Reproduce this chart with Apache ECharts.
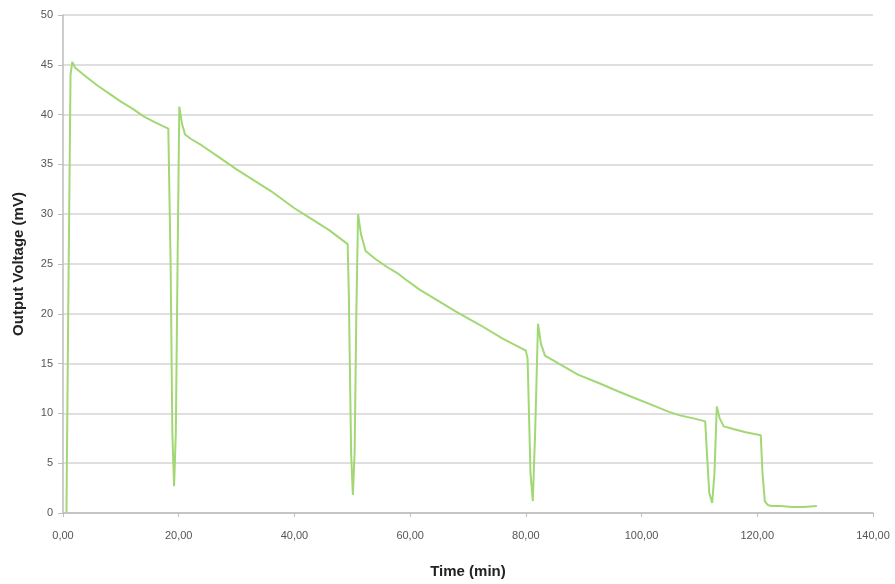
<!DOCTYPE html>
<html>
<head>
<meta charset="utf-8">
<script src="https://cdn.jsdelivr.net/npm/echarts@6/dist/echarts.min.js"></script>
<style>
html,body{margin:0;padding:0;background:#fff;}
#c{width:895px;height:584px;}
</style>
</head>
<body>
<div id="c"></div>
<script>
const timeMin = [0.6, 0.9, 1.3, 1.6, 2.1, 4.0, 6.0, 8.0, 10.0, 12.0, 14.0, 16.0, 18.2, 18.4, 18.6, 18.9, 19.2, 19.5, 19.8, 20.1, 20.6, 21.1, 22.0, 24.0, 27.0, 30.0, 33.0, 36.0, 40.0, 43.0, 46.0, 49.2, 49.4, 49.8, 50.1, 50.4, 50.7, 51.0, 51.5, 52.3, 54.0, 56.0, 58.0, 59.1, 61.7, 64.0, 68.0, 72.0, 76.0, 80.0, 80.3, 80.8, 81.2, 81.6, 82.1, 82.6, 83.3, 86.0, 89.0, 92.8, 96.0, 99.0, 102.0, 104.5, 106.6, 109.0, 111.0, 111.2, 111.7, 112.2, 112.6, 113.0, 113.5, 114.2, 116.0, 118.0, 120.6, 120.9, 121.3, 121.8, 122.5, 124.0, 126.0, 128.0, 130.3];
const voltage = [0.0, 20.0, 44.0, 45.3, 44.7, 43.8, 42.9, 42.1, 41.3, 40.6, 39.8, 39.2, 38.6, 38.5, 25.0, 8.0, 2.7, 8.0, 25.0, 40.8, 39.0, 38.0, 37.6, 36.9, 35.7, 34.5, 33.4, 32.3, 30.6, 29.5, 28.4, 27.0, 22.0, 6.0, 1.8, 6.0, 20.0, 30.0, 28.0, 26.3, 25.5, 24.7, 24.0, 23.5, 22.4, 21.6, 20.2, 18.9, 17.5, 16.3, 15.5, 4.0, 1.2, 8.0, 19.0, 17.0, 15.8, 14.9, 13.9, 13.0, 12.2, 11.5, 10.8, 10.2, 9.8, 9.5, 9.2, 7.0, 2.0, 1.0, 4.0, 10.7, 9.5, 8.7, 8.4, 8.1, 7.8, 4.0, 1.2, 0.8, 0.7, 0.7, 0.6, 0.6, 0.7];
const yTicks = [0, 5, 10, 15, 20, 25, 30, 35, 40, 45, 50];
const xTicks = [0, 20, 40, 60, 80, 100, 120, 140];

const chart = echarts.init(document.getElementById('c'), null, {renderer: 'canvas'});
const fam = '"Liberation Sans", Arial, sans-serif';
chart.setOption({
  animation: false,
  grid: {left: 63, right: 22, top: 15, bottom: 69, containLabel: false},
  xAxis: {
    type: 'value', min: xTicks[0], max: xTicks[xTicks.length-1], interval: 20,
    name: 'Time (min)', nameLocation: 'middle', nameGap: 51,
    nameTextStyle: {fontFamily: fam, fontWeight: 'bold', fontSize: 15, color: '#222'},
    axisLine: {show: true, lineStyle: {color: '#bdbdbd', width: 1.5}},
    axisTick: {show: true, length: 4, lineStyle: {color: '#bdbdbd'}},
    axisLabel: {fontFamily: fam, fontSize: 11, color: '#555', margin: 17,
      formatter: v => v.toFixed(2).replace('.', ',')},
    splitLine: {show: false}
  },
  yAxis: {
    type: 'value', min: yTicks[0], max: yTicks[yTicks.length-1], interval: 5,
    name: 'Output Voltage (mV)', nameLocation: 'middle', nameGap: 37, nameRotate: 90,
    nameTextStyle: {fontFamily: fam, fontWeight: 'bold', fontSize: 15, color: '#222'},
    axisLine: {show: true, lineStyle: {color: '#bdbdbd', width: 1.5}},
    axisTick: {show: true, length: 5, lineStyle: {color: '#bdbdbd'}},
    axisLabel: {fontFamily: fam, fontSize: 11, color: '#555', margin: 10},
    splitLine: {show: true, lineStyle: {color: '#d4d4d4', width: 1.5}}
  },
  series: [{
    type: 'line',
    data: timeMin.map((t, i) => [t, voltage[i]]),
    showSymbol: false,
    smooth: false,
    lineStyle: {color: '#a2d873', width: 2},
    itemStyle: {color: '#a2d873'}
  }]
});
</script>
</body>
</html>
